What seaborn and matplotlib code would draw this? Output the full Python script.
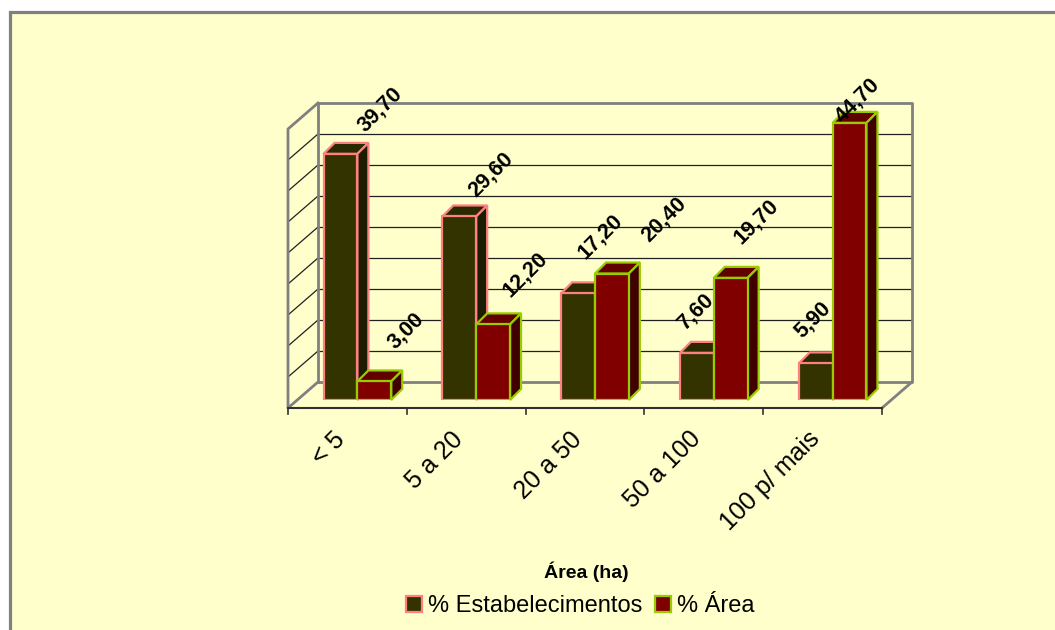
import matplotlib
matplotlib.use('Agg')
import numpy as np
import pandas as pd
from matplotlib import pyplot as plt
from matplotlib.patches import Polygon, Patch, Rectangle
import seaborn as sns

categories = ['< 5', '5 a 20', '20 a 50', '50 a 100', '100 p/ mais']
estabelecimentos = [39.70, 29.60, 17.20, 7.60, 5.90]
area = [3.00, 12.20, 20.40, 19.70, 44.70]
series_names = ['% Estabelecimentos', '% Área']
grid_values = [5, 10, 15, 20, 25, 30, 35, 40]
ymax = 45

# where Excel put each value label, relative to the top of its bar (px right, px up)
label_shift = [
    [(40, 44), (32, 42), (22, 57), (-1, 41), (-3, 44)],
    [(32, 51), (32, 50), (52, 54), (26, 56), (8, 22)],
]

face_colors = ['#333300', '#800000']
top_colors = ['#2a2a00', '#620000']
side_colors = ['#1c1c00', '#400000']
edge_colors = ['#FF8080', '#99CC00']
bg = '#FFFFCC'
wall = '#808080'

df = pd.DataFrame({
    'faixa': categories * 2,
    'valor': estabelecimentos + area,
    'serie': [series_names[0]] * len(categories) + [series_names[1]] * len(categories),
})

sns.set_style('white')
plt.rcParams['font.family'] = ['Liberation Sans', 'DejaVu Sans']
plt.rcParams['text.color'] = 'black'

W, H = 1055, 630
fig = plt.figure(figsize=(W / 100, H / 100), dpi=100)
fig.patch.set_facecolor('white')
fig.patches.append(Rectangle((10 / W, -0.1), 1.2, (H - 12) / H + 0.1,
                             transform=fig.transFigure, facecolor=bg,
                             edgecolor=wall, linewidth=2.3, zorder=-5))

# axes = plane of the bar front faces
left_px, right_px, base_px, top_px = 298, 892, 400, 121
ax = fig.add_axes([left_px / W, (H - base_px) / H,
                   (right_px - left_px) / W, (base_px - top_px) / H])
ax.set_facecolor('none')
ax.patch.set_alpha(0)

sns.barplot(data=df, x='faixa', y='valor', hue='serie', palette=face_colors,
            width=0.57, gap=0, legend=False, ax=ax, saturation=1)
ax.set_xlim(-0.5, len(categories) - 0.5)
ax.set_ylim(0, ymax)
for s in ax.spines.values():
    s.set_visible(False)
ax.set_xticks([])
ax.set_yticks([])
ax.set_xlabel('')
ax.set_ylabel('')

PX = len(categories) / (right_px - left_px)
PY = ymax / (base_px - top_px)

# wall planes: back = bar plane + (20px, 18px up), front = bar plane + (-10px, 8px down)
bx, by = 20 * PX, 18 * PY
fx, fy = -10 * PX, -8 * PY
x0, x1 = -0.5, len(categories) - 0.5

def line(xs, ys, color, lw, z=0.5):
    ax.plot(xs, ys, color=color, lw=lw, clip_on=False, zorder=z,
            solid_capstyle='projecting')

for g in grid_values:
    line([x0 + bx, x1 + bx], [g + by, g + by], '#202020', 0.9)
    line([x0 + fx, x0 + bx], [g + fy, g + by], '#202020', 0.9)

# back wall outline
line([x0 + bx, x1 + bx, x1 + bx, x0 + bx, x0 + bx],
     [by, by, ymax + by, ymax + by, by], wall, 2)
# left wall outline
line([x0 + bx, x0 + fx, x0 + fx, x0 + bx],
     [ymax + by, ymax + fy, fy, by], wall, 2)
# floor right edge
line([x1 + bx, x1 + fx], [by, fy], wall, 2)
# floor front edge with ticks
line([x0 + fx, x1 + fx], [fy, fy], '#303030', 1.5, z=4)
for k in range(len(categories) + 1):
    line([x0 + k + fx, x0 + k + fx], [fy, fy - 6 * PY], '#303030', 1.2, z=4)

# 3D faces of the bars
dx, dy = 11 * PX, 11 * PY
for i, cont in enumerate(ax.containers):
    for j, bar in enumerate(cont):
        bar.set_edgecolor(edge_colors[i])
        bar.set_linewidth(1.6)
        bar.set_zorder(3)
        bx0, w, h = bar.get_x(), bar.get_width(), bar.get_height()
        top = [(bx0, h), (bx0 + w, h), (bx0 + w + dx, h + dy), (bx0 + dx, h + dy)]
        side = [(bx0 + w, 0), (bx0 + w + dx, dy), (bx0 + w + dx, h + dy), (bx0 + w, h)]
        ax.add_patch(Polygon(top, closed=True, facecolor=top_colors[i],
                             edgecolor=edge_colors[i], lw=1.6, zorder=2,
                             clip_on=False, joinstyle='miter'))
        ax.add_patch(Polygon(side, closed=True, facecolor=side_colors[i],
                             edgecolor=edge_colors[i], lw=1.6, zorder=2,
                             clip_on=False, joinstyle='miter'))
        sx, sy = label_shift[i][j]
        ax.annotate(f'{h:.2f}'.replace('.', ','), (bx0 + w / 2, h),
                    xytext=(sx * 0.72, sy * 0.72), textcoords='offset points',
                    ha='center', va='center', rotation=45, fontsize=15.5,
                    fontweight='bold', color='black', zorder=5,
                    annotation_clip=False)

# category labels
for k, cat in enumerate(categories):
    ax.text(k - 25 * PX, -27 * PY, cat, rotation=45, rotation_mode='anchor',
            ha='right', va='top', fontsize=18, color='black', clip_on=False)

fig.text(586 / W, 1 - 572 / H, 'Área (ha)', ha='center', va='center',
         fontsize=14, fontweight='bold')

handles = [Patch(facecolor=face_colors[i], edgecolor=edge_colors[i], lw=1.6)
           for i in range(2)]
fig.legend(handles, series_names, loc='center', bbox_to_anchor=(580 / W, 1 - 606 / H),
           ncol=2, frameon=False, fontsize=17, handlelength=0.68, handleheight=0.68,
           handletextpad=0.25, columnspacing=0.55, borderpad=0)

fig.savefig('out.png', dpi=100, facecolor='white')
